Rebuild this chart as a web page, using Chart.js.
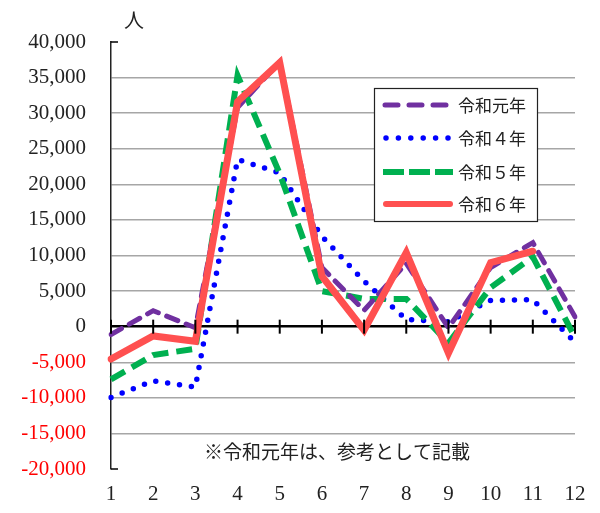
<!DOCTYPE html>
<html>
<head>
<meta charset="utf-8">
<script src="https://cdn.jsdelivr.net/npm/chart.js@4"></script>
<style>
html,body{margin:0;padding:0;background:#fff;}
#wrap{position:relative;width:600px;height:513px;}
</style>
</head>
<body>
<div id="wrap"><canvas id="c" width="600" height="513"></canvas></div>
<script>
const months = ['1','2','3','4','5','6','7','8','9','10','11','12'];
const seriesNames = ['令和元年','令和４年','令和５年','令和６年'];
const r1 = [-1100, 2250, -150, 30800, 37200, 8300, 2300, 8900, -150, 8300, 11800, 1400];
const r4 = [-9950, -7600, -8500, 23500, 21600, 12700, 6400, 1000, 700, 3700, 3800, -2200];
const r5 = [-7400, -4000, -3100, 35300, 21500, 5000, 3900, 3900, -2300, 5500, 9800, -1500];
const r6 = [-4550, -1300, -2050, 31600, 37100, 7100, -500, 10400, -3700, 9000, 10600, null];
const yMin = -20000, yMax = 40000, yStep = 5000;
const unitLabel = '人';
const noteText = '※令和元年は、参考として記載';

const serif = "'Liberation Serif', 'Times New Roman', serif";
const cjk = "'Noto Sans CJK JP', sans-serif";

const decor = {
  id: 'decor',
  afterDatasetsDraw(chart) {
    const ctx = chart.ctx, x = chart.scales.x, y = chart.scales.y, a = chart.chartArea;
    ctx.save();
    const y0 = y.getPixelForValue(0);
    ctx.strokeStyle = '#000'; ctx.lineWidth = 2;
    months.forEach((m, i) => {
      const px = x.getPixelForValue(i);
      ctx.beginPath(); ctx.moveTo(px, y0 - 7); ctx.lineTo(px, y0 + 7); ctx.stroke();
    });
    ctx.lineWidth = 1.5;
    [yMax, yMin].forEach(v => {
      const py = y.getPixelForValue(v);
      ctx.beginPath(); ctx.moveTo(a.left, py); ctx.lineTo(a.left + 7, py); ctx.stroke();
    });
    ctx.restore();
  },
  afterDraw(chart) {
    const ctx = chart.ctx;
    ctx.save();
    ctx.fillStyle = '#222';
    ctx.textBaseline = 'middle';
    ctx.textAlign = 'center';
    ctx.font = "20px " + cjk;
    ctx.fillText(unitLabel, 134, 20);
    ctx.font = "19px " + cjk;
    ctx.fillText(noteText, 337, 452);
    const bx = 374, by = 88, bw = 163, bh = 133;
    ctx.fillStyle = '#fff';
    ctx.fillRect(bx, by, bw, bh);
    ctx.strokeStyle = '#222'; ctx.lineWidth = 1.2;
    ctx.strokeRect(bx + 0.5, by + 0.5, bw, bh);
    const rows = [105, 138, 172, 204];
    [0, 1, 2, 3].forEach((di, k) => {
      const ds = chart.data.datasets[di];
      const ry = rows[k];
      ctx.save();
      ctx.strokeStyle = ds.borderColor;
      ctx.lineWidth = ds.legendWidth || ds.borderWidth;
      ctx.lineCap = ds.borderCapStyle || 'butt';
      ctx.setLineDash(ds.legendDash || ds.borderDash || []);
      ctx.beginPath(); ctx.moveTo(ds.legendStart || 385, ry); ctx.lineTo(ds.legendEnd || 451, ry); ctx.stroke();
      ctx.restore();
      ctx.fillStyle = '#222';
      ctx.textAlign = 'left';
      ctx.font = "17px " + cjk;
      ctx.fillText(ds.label, 458, ry + 1);
    });
    ctx.restore();
  }
};

new Chart(document.getElementById('c'), {
  type: 'line',
  data: {
    labels: months,
    datasets: [
      { label: seriesNames[0], data: r1, borderColor: '#7030A0', borderWidth: 5, borderDash: [12, 9], borderCapStyle: 'round', legendDash: [13, 11], legendStart: 385, legendEnd: 450, order: 1 },
      { label: seriesNames[1], data: r4, borderColor: '#0000FF', borderWidth: 5.5, borderDash: [0, 12], borderCapStyle: 'round', legendDash: [0, 12.4], legendStart: 386, legendEnd: 450, order: 3 },
      { label: seriesNames[2], data: r5, borderColor: '#00B050', borderWidth: 6, borderDash: [16, 8], borderCapStyle: 'butt', legendDash: [21, 5], legendStart: 383, legendEnd: 453, order: 2 },
      { label: seriesNames[3], data: r6, borderColor: '#FF5050', borderWidth: 7, borderDash: [], borderCapStyle: 'round', legendWidth: 6, legendStart: 386, legendEnd: 450, order: 0 }
    ].map(d => Object.assign({ pointRadius: 0, pointHoverRadius: 0, tension: 0, fill: false, spanGaps: false, borderJoinStyle: 'miter' }, d))
  },
  options: {
    responsive: false,
    animation: false,
    events: [],
    layout: { padding: { left: 0, right: 25, top: 42, bottom: 0 } },
    plugins: { legend: { display: false }, tooltip: { enabled: false } },
    scales: {
      x: {
        offset: false,
        afterFit(s) { s.height = 44; },
        grid: { display: false, drawTicks: false },
        border: { display: false },
        ticks: { color: '#222', font: { family: serif, size: 21 }, padding: 13, maxRotation: 0, autoSkip: false }
      },
      y: {
        min: yMin, max: yMax,
        afterFit(s) { s.width = 111; },
        border: { display: true, color: '#222', width: 1.5 },
        grid: {
          drawTicks: false,
          color: c => c.tick.value === 0 ? '#000' : (c.tick.value === yMax || c.tick.value === yMin ? 'rgba(0,0,0,0)' : '#A6A6A6'),
          lineWidth: c => c.tick.value === 0 ? 2.5 : 1.5
        },
        ticks: {
          stepSize: yStep,
          padding: 25,
          color: c => c.tick.value < 0 ? '#FF0000' : '#222',
          font: { family: serif, size: 21 },
          callback: v => v.toLocaleString('en-US')
        }
      }
    }
  },
  plugins: [decor]
});
</script>
</body>
</html>
